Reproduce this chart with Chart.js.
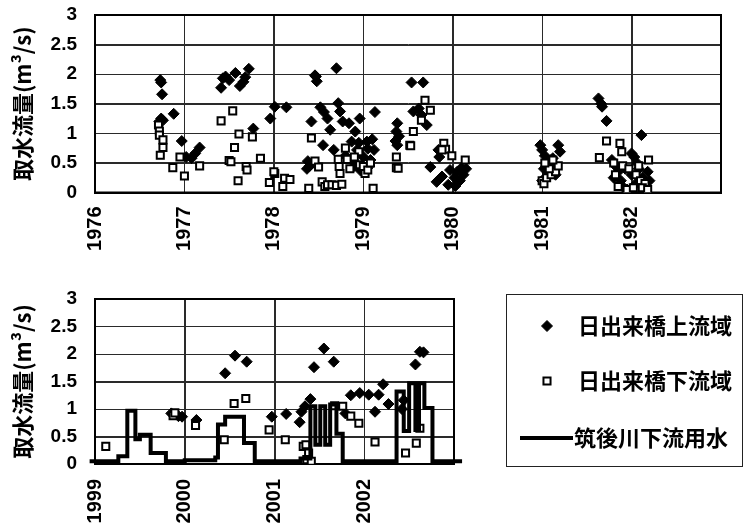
<!DOCTYPE html>
<html><head><meta charset="utf-8">
<script src="https://cdn.jsdelivr.net/npm/chart.js"></script>
<style>
html,body{margin:0;padding:0;background:#fff;}
#wrap{position:relative;width:750px;height:526px;background:#fff;}
canvas{position:absolute;left:0;}
#topChart{top:0;}
#botChart{top:280px;}
</style></head><body>
<div id="wrap"><canvas id="topChart" width="750" height="270"></canvas><canvas id="botChart" width="750" height="246"></canvas></div>
<script>
// ---------- data ----------
const seriesNames = ['日出来橋上流域', '日出来橋下流域', '筑後川下流用水'];
const yTitle = '取水流量(m³/s)';
const yTickLabels = ['0', '0.5', '1', '1.5', '2', '2.5', '3'];
const yGridValues = [0.5, 1, 1.5, 2, 2.5];
const topYearLabels = [1976, 1977, 1978, 1979, 1980, 1981, 1982];
const botYearLabels = [1999, 2000, 2001, 2002];

// top panel: upstream (diamonds)
const topUpperX = [1976.73,1976.74,1976.75,1976.74,1976.76,1976.72,1976.88,1976.97,1977.02,1977.08,1977.12,1977.17,
 1977.41,1977.43,1977.46,1977.50,1977.57,1977.62,1977.66,1977.72,1977.68,1977.77,1977.96,1978.01,1978.14,
 1978.46,1978.47,1978.48,1978.70,1978.42,1978.52,1978.56,1978.60,1978.72,1978.74,1978.63,1978.77,1978.84,1978.96,1979.13,1978.91,
 1978.55,1978.67,1978.87,1978.95,1979.04,1979.10,1978.93,1979.05,1979.12,1978.38,1978.40,1978.37,1978.90,1978.97,1979.05,1978.88,1979.00,1979.08,1978.45,1978.80,
 1979.38,1979.37,1979.36,1979.38,1979.40,1979.54,1979.67,1979.56,1979.62,1979.65,1979.71,1979.84,1979.85,1979.75,1979.88,1979.82,1979.95,1980.03,1980.05,1980.10,1980.12,1980.02,1979.97,1980.08,1980.15,
 1980.98,1981.00,1981.18,1981.20,1981.03,1981.05,1981.02,1981.12,1981.14,1981.08,1981.04,1981.00,1981.15,1981.10,
 1981.63,1981.66,1981.67,1981.72,1982.11,1982.00,1982.03,1981.78,1981.82,1981.85,1981.80,1981.88,1981.90,1981.95,1982.00,1982.05,1982.08,1982.12,1982.15,1982.18,1982.20,1981.93,1982.06];
const topUpperY = [1.90,1.86,1.66,1.25,1.22,1.20,1.33,0.87,0.60,0.58,0.66,0.76,
 1.77,1.93,1.96,1.90,2.02,1.80,1.87,2.09,1.95,1.08,1.25,1.45,1.44,
 1.98,1.96,1.88,2.10,1.20,1.44,1.36,1.25,1.51,1.37,1.06,1.20,1.17,1.25,1.36,1.03,
 0.80,0.72,0.86,0.84,0.86,0.90,0.72,0.74,0.72,0.53,0.45,0.40,0.45,0.37,0.42,0.55,0.60,0.55,0.50,0.62,
 1.17,1.03,0.87,0.80,0.95,1.86,1.86,1.37,1.42,1.31,1.14,0.72,0.60,0.43,0.27,0.18,0.13,0.11,0.35,0.42,0.30,0.25,0.38,0.20,0.40,
 0.80,0.72,0.80,0.69,0.62,0.50,0.40,0.58,0.45,0.35,0.25,0.20,0.30,0.55,
 1.59,1.50,1.45,1.21,0.97,0.66,0.60,0.55,0.45,0.35,0.25,0.20,0.10,0.05,0.30,0.15,0.40,0.25,0.05,0.35,0.20,0.40,0.50];

// top panel: downstream (squares)
const topLowerX = [1976.71,1976.72,1976.72,1976.76,1976.76,1976.73,1976.87,1976.95,1977.00,1977.17,
 1977.41,1977.54,1977.61,1977.76,1977.56,1977.50,1977.52,1977.69,1977.70,1977.60,1977.85,1977.95,
 1978.01,1978.00,1978.12,1978.10,1978.18,1978.39,1978.42,1978.46,1978.50,1978.54,1978.57,1978.60,1978.65,1978.70,1978.76,
 1978.80,1978.82,1978.72,1978.73,1978.74,1978.95,1978.96,1979.00,1979.02,1979.05,1979.11,1978.85,1978.90,1979.08,
 1979.37,1979.37,1979.52,1979.69,1979.75,1979.65,1979.56,1979.53,1979.39,1979.90,1979.92,1979.88,1979.99,1980.14,
 1981.00,1981.02,1981.05,1981.10,1981.15,1981.18,1981.08,1981.12,1981.03,
 1981.72,1981.87,1981.64,1982.19,1981.89,1981.80,1981.90,1981.97,1982.05,1982.10,1982.15,1981.85,1981.95,1982.02,1982.12,1982.18,1981.82,1982.08];
const topLowerY = [1.14,1.04,0.97,0.89,0.76,0.63,0.42,0.60,0.28,0.45,
 1.21,1.38,0.99,0.94,0.76,0.54,0.52,0.44,0.38,0.20,0.58,0.17,
 0.32,0.35,0.24,0.10,0.22,0.07,0.92,0.53,0.43,0.18,0.10,0.13,0.13,0.12,0.14,
 0.75,0.56,0.56,0.44,0.32,0.69,0.47,0.44,0.32,0.38,0.07,0.40,0.60,0.50,
 0.60,0.42,0.80,1.56,1.39,1.22,1.03,0.79,0.41,0.83,0.73,0.72,0.62,0.55,
 0.20,0.15,0.25,0.30,0.35,0.45,0.40,0.55,0.50,
 0.87,0.83,0.59,0.55,0.69,0.50,0.45,0.40,0.30,0.20,0.15,0.10,0.05,0.08,0.08,0.05,0.30,0.45];

// bottom panel: upstream (diamonds)
const botUpperX = [1999.85,1999.93,1999.97,2000.13,2000.45,2000.56,2000.69,2000.97,2001.13,2001.28,2001.30,2001.34,2001.40,2001.44,2001.55,2001.66,2001.79,
 2001.85,2001.95,2002.05,2002.16,2002.12,2002.21,2002.27,2002.42,2002.44,2002.57,2002.62,2002.66];
const botUpperY = [0.92,0.87,0.86,0.80,1.65,1.97,1.86,0.86,0.91,0.76,0.95,1.05,1.18,1.76,2.10,1.86,0.92,
 1.25,1.29,1.26,1.26,0.95,1.45,1.09,1.00,1.16,1.81,2.04,2.03];

// bottom panel: downstream (squares)
const botLowerX = [1999.12,1999.87,1999.89,2000.12,2000.44,2000.55,2000.68,2000.94,2001.12,2001.32,2001.35,2001.38,2001.36,2001.41,
 2001.67,2001.76,2001.85,2001.94,2002.12,2002.46,2002.58,2002.62];
const botLowerY = [0.32,0.88,0.93,0.70,0.44,1.10,1.19,0.62,0.44,0.32,0.35,0.20,0.08,0.05,
 1.06,1.05,0.87,0.74,0.40,0.20,0.38,0.65];

// bottom panel: canal intake (step line)
const stepX = [1998.94,1999.26,1999.36,1999.45,1999.50,1999.62,1999.79,2000.00,2000.34,2000.37,2000.45,2000.66,2000.78,
 2001.29,2001.40,2001.455,2001.51,2001.565,2001.62,2001.69,2001.76,2002.36,2002.44,2002.50,2002.57,2002.61,2002.67,2002.76,2003.09];
const stepY = [0.05,0.14,0.97,0.45,0.53,0.20,0.05,0.07,0.12,0.72,0.86,0.38,0.05,
 0.10,1.05,0.35,1.05,0.35,1.08,0.55,0.05,1.32,0.60,1.47,0.62,1.47,1.02,0.05,0.05];

// ---------- helpers ----------
const zip = (xs, ys) => xs.map((x, i) => ({x: x, y: ys[i]}));
const tickFont = {family: "'Liberation Sans', Arial, sans-serif", weight: 'bold', size: 19};
const xTickFont = {family: "'Liberation Sans', Arial, sans-serif", weight: 'bold', size: 20};
const titleFont = {family: "'Noto Sans CJK JP', sans-serif", weight: 'bold', size: 22};

// gridlines + frame, positioned through the chart's own scales (under the markers)
const gridFrame = {
  id: 'gridFrame',
  beforeDatasetsDraw(chart, args, opts) {
    const xs = chart.scales.x, ys = chart.scales.y, ctx = chart.ctx;
    const L = xs.left, R = xs.right, T = ys.top, B = ys.bottom;
    ctx.save();
    ctx.fillStyle = '#2a2a2a';
    for (let v = xs.min + 1; v < xs.max; v++) {
      const px = Math.round(xs.getPixelForValue(v));
      ctx.fillRect(px, T, 1, B - T);
    }
    yGridValues.forEach(v => {
      const py = Math.round(ys.getPixelForValue(v));
      ctx.fillRect(L, py, R - L, 1);
    });
    ctx.strokeStyle = '#000';
    ctx.lineWidth = 2;
    ctx.strokeRect(L, T, R - L, B - T);
    ctx.restore();
  }
};

function makeOptions(cfg) {
  return {
    responsive: false, animation: false, devicePixelRatio: 1,
    layout: {padding: {left: 0, top: cfg.top, right: cfg.right, bottom: 0}},
    plugins: {legend: {display: false}, tooltip: {enabled: false}},
    scales: {
      x: {
        type: 'linear', min: cfg.xmin, max: cfg.xmax,
        afterFit: s => { s.height = cfg.xh; s.paddingLeft = 0; s.paddingRight = 0; },
        ticks: {
          stepSize: 1, autoSkip: false, minRotation: 90, maxRotation: 90, padding: cfg.xpad,
          color: '#000', font: xTickFont,
          callback: v => cfg.labels.includes(v) ? String(v) : ''
        },
        grid: {display: true, drawOnChartArea: true, color: '#2a2a2a', lineWidth: 1, drawTicks: false},
        border: {display: true, color: '#000', width: 2}
      },
      y: {
        type: 'linear', min: 0, max: 3,
        afterFit: s => { s.width = 95; s.paddingTop = 0; s.paddingBottom = 0; },
        ticks: {stepSize: 0.5, autoSkip: false, padding: 18, color: '#000', font: tickFont,
          callback: v => yTickLabels[Math.round(v * 2)] ?? ''},
        title: {display: true, text: yTitle, color: '#000', font: titleFont, padding: {top: 9, bottom: 0}},
        grid: {display: true, drawOnChartArea: true, color: '#2a2a2a', lineWidth: 1, drawTicks: false},
        border: {display: true, color: '#000', width: 2}
      }
    }
  };
}

function diamondSet(data) {
  return {label: seriesNames[0], data: data, pointStyle: 'rectRot', pointRadius: 5.5,
    backgroundColor: '#000', borderColor: '#000', borderWidth: 1, showLine: false, order: 0};
}
function squareSet(data) {
  return {label: seriesNames[1], data: data, pointStyle: 'rect', pointRadius: 5,
    backgroundColor: '#fff', borderColor: '#000', borderWidth: 2, showLine: false, order: -1};
}

// ---------- top chart ----------
new Chart(document.getElementById('topChart'), {
  type: 'scatter',
  data: {datasets: [diamondSet(zip(topUpperX, topUpperY)), squareSet(zip(topLowerX, topLowerY))]},
  options: makeOptions({top: 15, right: 29, xmin: 1976, xmax: 1983, xh: 77.5, xpad: 14, labels: topYearLabels}),
  plugins: [gridFrame]
});

// ---------- legend box plugin (bottom chart) ----------
const boxLegend = {
  id: 'boxLegend',
  afterDraw(chart) {
    const ctx = chart.ctx;
    ctx.save();
    ctx.strokeStyle = '#222';
    ctx.lineWidth = 1;
    ctx.strokeRect(506.5, 14.5, 236, 172);
    const ys = [46, 101, 158];
    ctx.font = "bold 22px 'Noto Sans CJK JP', sans-serif";
    ctx.textBaseline = 'middle';
    ctx.textAlign = 'left';
    chart.data.datasets.forEach((ds, i) => {
      const y = ys[i];
      if (ds.showLine) {
        ctx.strokeStyle = '#000';
        ctx.lineWidth = 4;
        ctx.beginPath(); ctx.moveTo(520, y); ctx.lineTo(573, y); ctx.stroke();
      } else {
        ctx.fillStyle = ds.backgroundColor; ctx.strokeStyle = ds.borderColor; ctx.lineWidth = ds.borderWidth;
        ctx.beginPath();
        if (ds.pointStyle === 'rectRot') {
          const r = ds.pointRadius;
          ctx.moveTo(547 - r, y); ctx.lineTo(547, y - r); ctx.lineTo(547 + r, y); ctx.lineTo(547, y + r); ctx.closePath();
        } else {
          const h = ds.pointRadius * Math.SQRT1_2;
          ctx.rect(547 - h, y - h, 2 * h, 2 * h);
        }
        ctx.fill(); ctx.stroke();
      }
      ctx.fillStyle = '#000';
      ctx.fillText(ds.label, ds.showLine ? 574 : 578, y);
    });
    ctx.restore();
  }
};

// ---------- bottom chart ----------
new Chart(document.getElementById('botChart'), {
  type: 'scatter',
  data: {datasets: [
    diamondSet(zip(botUpperX, botUpperY)),
    squareSet(zip(botLowerX, botLowerY)),
    {label: seriesNames[2], data: zip(stepX, stepY), showLine: true, stepped: true,
      borderColor: '#000', borderWidth: 4, pointRadius: 0, fill: false, order: -2,
      borderCapStyle: 'butt', borderJoinStyle: 'miter',
      clip: {left: 8, top: 5, right: 10, bottom: 5}}
  ]},
  options: makeOptions({top: 19, right: 296, xmin: 1999, xmax: 2003, xh: 62, xpad: 15, labels: botYearLabels}),
  plugins: [gridFrame, boxLegend]
});
</script>
</body></html>
